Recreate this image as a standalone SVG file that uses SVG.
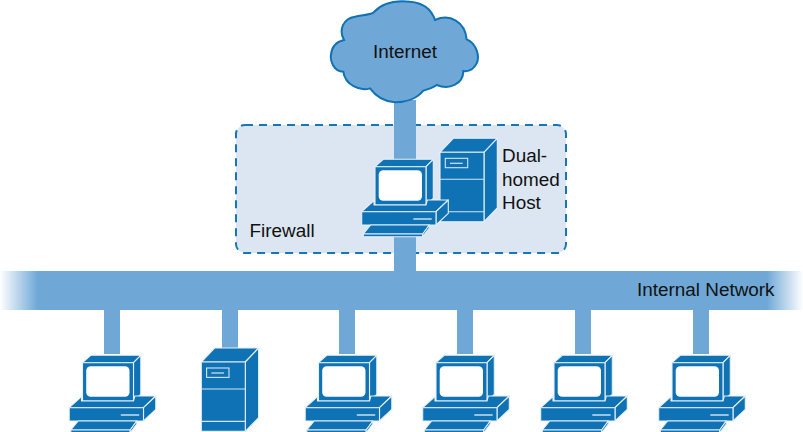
<svg xmlns="http://www.w3.org/2000/svg" width="803" height="432" viewBox="0 0 803 432">
  <style>
    .link { fill: #6fa8d6; }
    .body { fill: #0e72b5; stroke: #e6f0f8; stroke-width: 1.1; stroke-linejoin: round; }
    .rule { fill: none; stroke: #d6e6f2; stroke-width: 1.1; }
    .label { font-family: "Liberation Sans", Arial, sans-serif; font-size: 18.9px; fill: #111; }
  </style>
  <defs>
    <linearGradient id="busFade" x1="0" y1="0" x2="803" y2="0" gradientUnits="userSpaceOnUse">
      <stop offset="0" stop-color="#6fa8d6" stop-opacity="0"/>
      <stop offset="0.047" stop-color="#6fa8d6"/>
      <stop offset="0.955" stop-color="#6fa8d6"/>
      <stop offset="1" stop-color="#6fa8d6" stop-opacity="0"/>
    </linearGradient>
    <!-- Workstation: monitor, base unit and keyboard -->
    <g id="pc">
      <path class="body" d="M25 36.7 L33.3 29.3 H83.3 L76 36.7 Z"/>
      <path class="body" d="M76 36.7 L83.3 29.3 V68.3 L76 75 Z"/>
      <rect class="body" x="25" y="36.7" width="51" height="38.3"/>
      <rect x="28.7" y="40.3" width="43.3" height="30.4" rx="4.5" fill="#fff"/>
      <path class="body" d="M11.7 81.7 L24 70.7 V75 H76 L77.3 70 H98.3 L86 81.7 Z"/>
      <path class="body" d="M86 81.7 L98.3 70 V83.3 L86 95 Z"/>
      <rect class="body" x="11.7" y="81.7" width="74.3" height="13.3"/>
      <rect x="63.3" y="88.3" width="18.4" height="1.4" fill="#d6e6f2"/>
      <path class="body" d="M13.3 104 L20.7 95 H79.3 L72.7 104 Z"/>
      <path class="body" d="M13.3 104 H72.7 V106.7 H13.3 Z"/>
      <path class="body" d="M72.7 104 L79.3 95 V98 L72.7 106.7 Z"/>
    </g>
    <!-- Tower server: front, top and side faces -->
    <g id="server">
      <path class="body" d="M90 22.3 L103.3 8.3 H147.3 L134 22.3 Z"/>
      <path class="body" d="M134 22.3 L147.3 8.3 V78 L134 91.7 Z"/>
      <rect class="body" x="90" y="22.3" width="44" height="69.4"/>
      <path class="rule" d="M90 49.3 H134 M90 81.7 H134"/>
      <rect class="rule" x="95.3" y="28.3" width="22.4" height="9.4"/>
      <rect x="100" y="32.7" width="12.7" height="1.2" fill="#d6e6f2"/>
    </g>
  </defs>

  <g id="firewall">
    <rect x="236" y="125" width="330" height="128" rx="9" fill="#dce6f2" stroke="#1777b5" stroke-width="2" stroke-dasharray="8 6"/>
    <text class="label" x="249.5" y="237">Firewall</text>
  </g>

  <g id="connectors">
    <rect class="link" x="394" y="100" width="22" height="172"/>
    <rect x="0" y="271" width="803" height="39" fill="url(#busFade)"/>
    <rect class="link" x="104" y="310" width="16" height="44"/>
    <rect class="link" x="222" y="310" width="16" height="40"/>
    <rect class="link" x="339" y="310" width="16" height="44"/>
    <rect class="link" x="457" y="310" width="16" height="44"/>
    <rect class="link" x="575" y="310" width="16" height="44"/>
    <rect class="link" x="693" y="310" width="16" height="44"/>
  </g>

  <g id="internet">
    <path transform="translate(320 0) scale(0.3333)" fill="#6fa8d6" stroke="#0e72b5" stroke-width="6" d="M72 120 C55 90 70 55 105 50 C125 45 150 45 160 38 C185 10 225 0 270 5 C310 8 335 30 345 60 C390 40 435 65 440 118 C470 130 480 170 470 190 C460 210 445 215 430 213 C430 250 390 272 350 255 C340 262 325 268 310 272 C290 297 255 307 225 307 C195 305 170 292 150 265 C120 275 75 255 70 215 C40 215 30 180 33 165 C35 140 50 125 72 120 Z"/>
    <text class="label" x="405" y="57.5" text-anchor="middle">Internet</text>
  </g>

  <g id="dual-homed-host">
    <use href="#server" x="350" y="130"/>
    <use href="#pc" x="350" y="130"/>
    <text class="label" x="502" y="162">Dual-</text>
    <text class="label" x="502" y="186">homed</text>
    <text class="label" x="502" y="209">Host</text>
  </g>

  <g id="internal-network">
    <text class="label" x="637" y="296">Internal Network</text>
  </g>

  <g id="pc-1"><use href="#pc" x="57.5" y="326"/></g>
  <g id="server-1"><use href="#server" x="111.3" y="339.7"/></g>
  <g id="pc-2"><use href="#pc" x="293.5" y="326"/></g>
  <g id="pc-3"><use href="#pc" x="411" y="326"/></g>
  <g id="pc-4"><use href="#pc" x="529" y="326"/></g>
  <g id="pc-5"><use href="#pc" x="647" y="326"/></g>
</svg>
